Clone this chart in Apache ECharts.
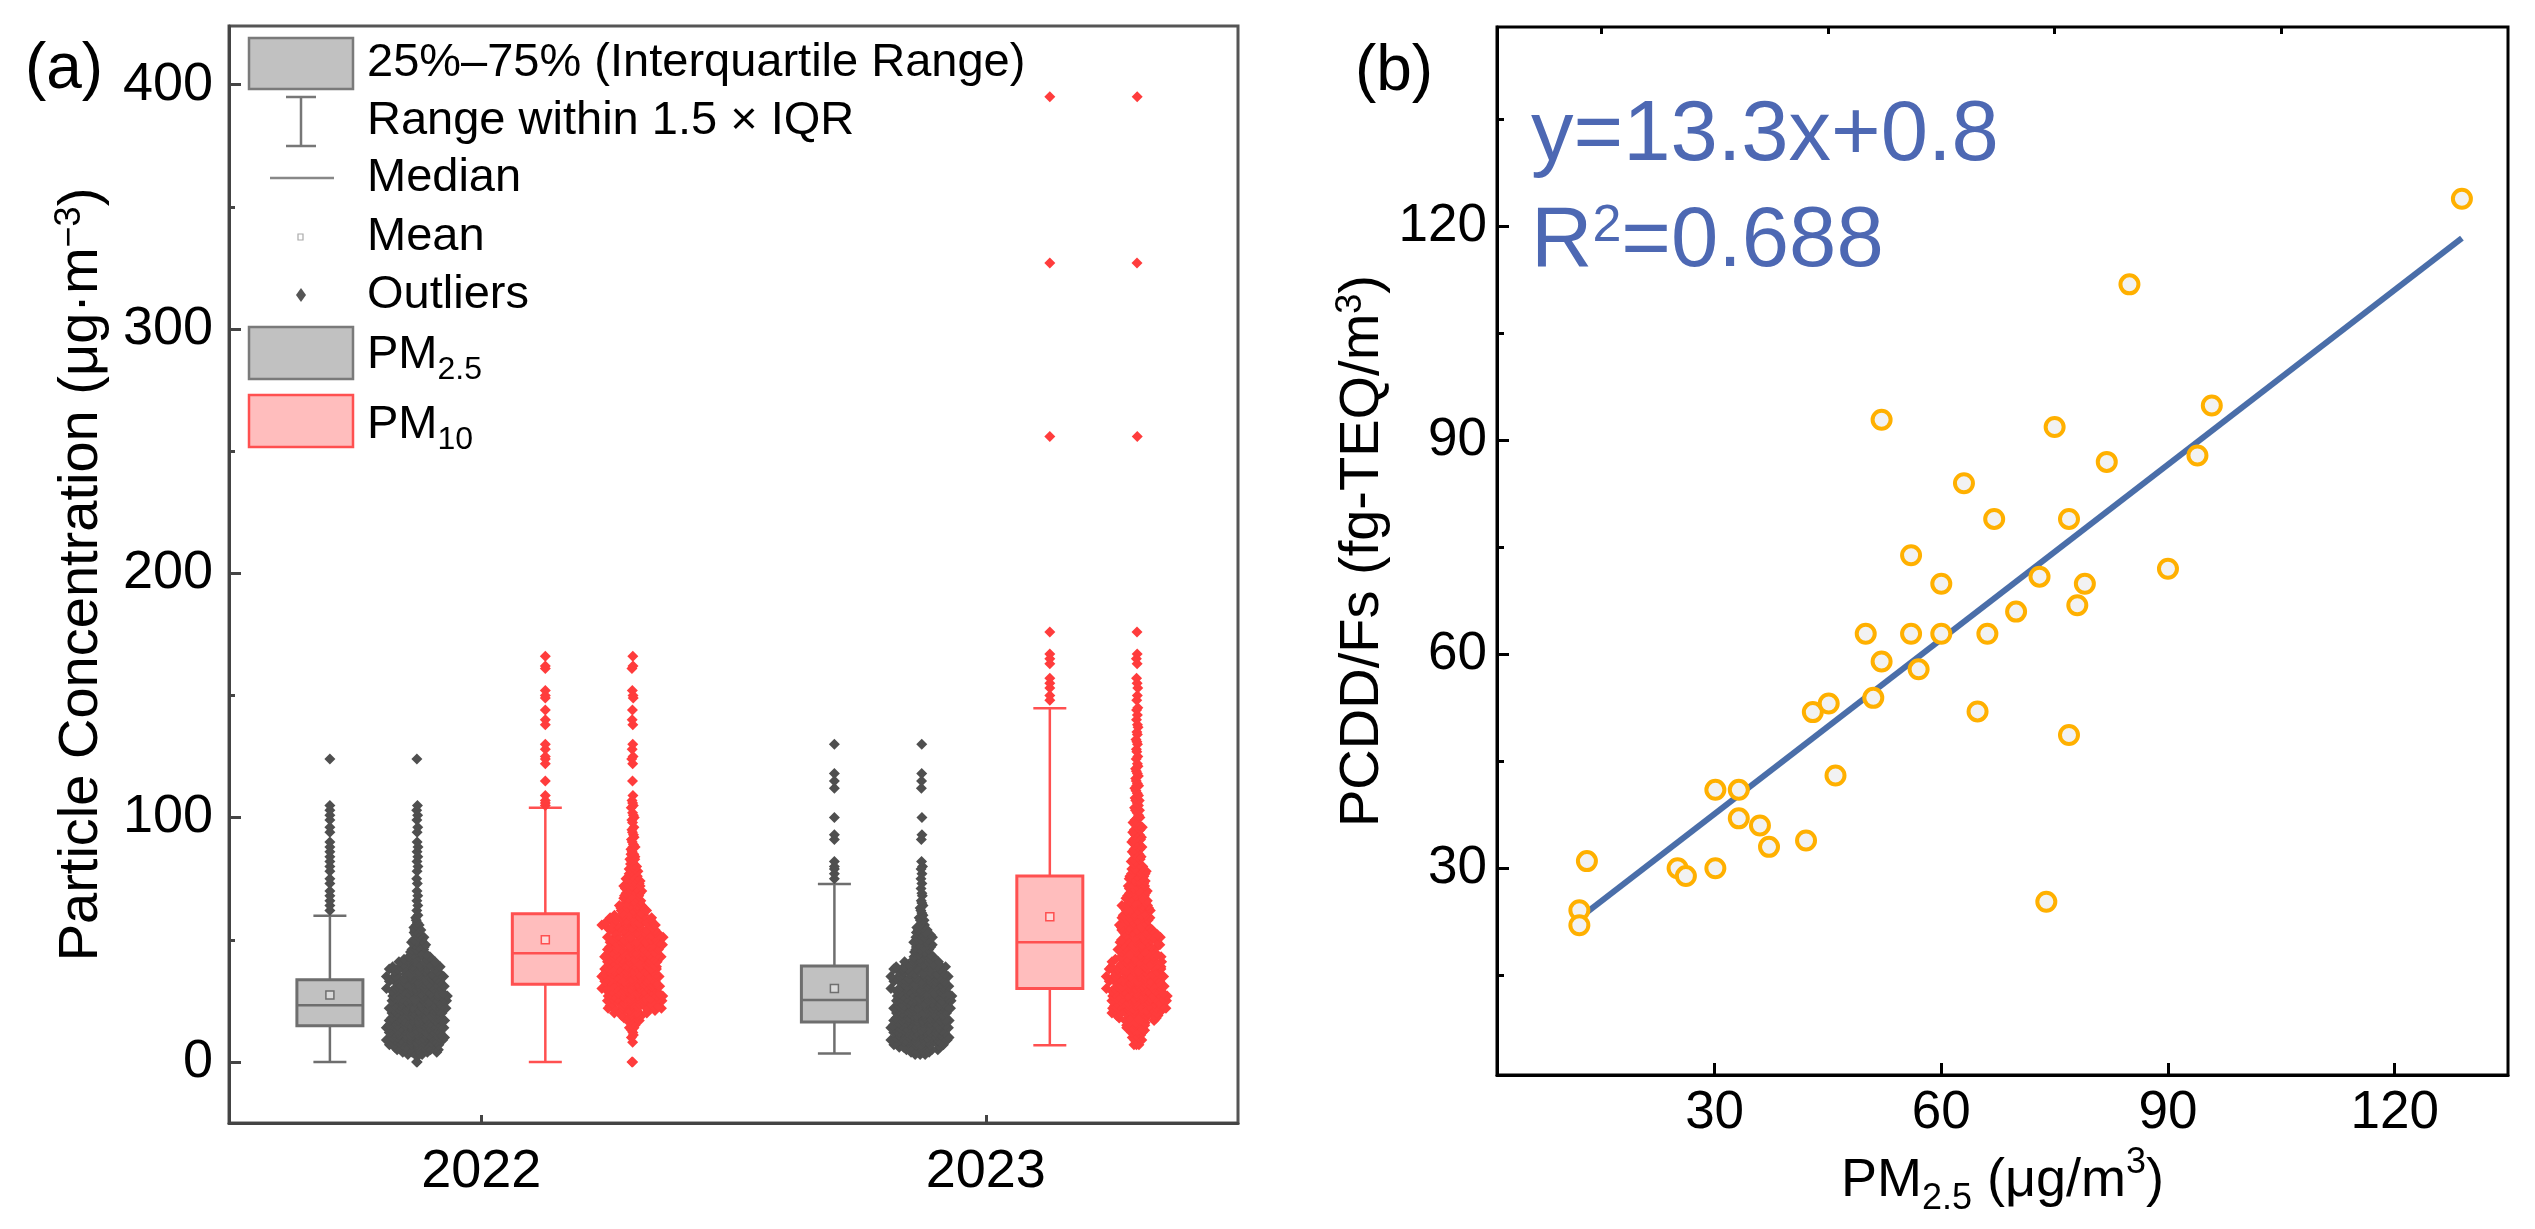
<!DOCTYPE html>
<html>
<head>
<meta charset="utf-8">
<script src="https://cdn.jsdelivr.net/npm/echarts@6/dist/echarts.min.js"></script>
<style>
  html, body { margin: 0; padding: 0; background: #fff; }
  #main { width: 2535px; height: 1229px; }
</style>
</head>
<body>
<div id="main"></div>
<script>
var chart = echarts.init(document.getElementById('main'));

// ---- panel (a) data ----
var yearLabels = ['2022', '2023'];
// box stats: [min, q1, median, q3, max, mean]
var box2022pm25 = [0, 14.8, 23.2, 33.6, 59.8, 27.4];
var box2022pm10 = [0, 31.8, 44.5, 60.6, 104, 50];
var box2023pm25 = [3.4, 16.3, 25.3, 39.3, 72.8, 30];
var box2023pm10 = [6.8, 30, 49, 76.1, 144.8, 59.4];

// outliers (shown in the box column and in the point column)
var out2022pm25 = [62, 64, 66, 68, 70, 73, 75, 78, 80, 82, 84, 86, 88, 90, 94, 96, 99, 101, 103, 105, 124];
var out2022pm10 = [105, 106, 107, 109, 115, 122, 124, 125, 128, 130, 138, 140, 144, 149, 150, 152, 161, 162, 166];
var out2023pm25 = [75, 77, 79, 80, 82, 91, 93, 100, 112, 115, 118, 130];
var out2023pm10 = [148, 150, 153, 155, 157, 163, 165, 167, 176, 256, 327, 395];

// daily values within whiskers, as number of days per integer value (from start value up)
var start2022pm25 = 0;
var days2022pm25 = [2, 0, 0, 4, 5, 6, 7, 8, 9, 10,
  10, 11, 11, 12, 12, 12, 12, 12, 12, 11,
  11, 11, 10, 10, 10, 10, 9, 9, 9, 8,
  8, 8, 7, 7, 7, 7, 7, 6, 6, 6,
  6, 5, 4, 3, 3, 3, 3, 2, 3, 2,
  3, 2, 2, 2, 2, 1, 2, 1, 1, 1,
  1];
var start2022pm10 = 0;
var days2022pm10 = [2, 0, 0, 0, 0, 0, 0, 0, 1, 0,
  1, 1, 1, 1, 2, 1, 2, 2, 3, 4,
  5, 6, 6, 7, 7, 8, 8, 8, 9, 9,
  9, 9, 9, 9, 9, 9, 9, 9, 9, 9,
  9, 8, 8, 8, 8, 8, 7, 7, 7, 7,
  7, 6, 6, 6, 6, 6, 6, 6, 6, 5,
  5, 4, 4, 4, 4, 3, 3, 3, 3, 3,
  3, 3, 3, 3, 3, 3, 2, 2, 2, 2,
  2, 2, 1, 2, 1, 2, 1, 1, 2, 1,
  1, 1, 1, 1, 1, 1, 1, 0, 1, 1,
  1, 1, 1, 0, 1];
var start2023pm25 = 3;
var days2023pm25 = [3, 4, 5, 6, 7, 8, 9, 10, 10, 11,
  11, 11, 11, 11, 11, 11, 10, 10, 10, 10,
  10, 9, 9, 9, 9, 9, 8, 8, 8, 8,
  8, 7, 7, 7, 7, 6, 6, 6, 5, 3,
  3, 3, 3, 3, 3, 3, 3, 3, 3, 3,
  3, 2, 2, 2, 1, 2, 1, 1, 1, 1,
  1, 1, 1, 1, 0, 1, 1, 0, 1, 0,
  1];
var start2023pm10 = 7;
var days2023pm10 = [3, 1, 2, 2, 2, 3, 3, 3, 3, 4,
  4, 5, 6, 7, 8, 8, 8, 8, 8, 8,
  8, 8, 8, 8, 8, 8, 8, 7, 7, 7,
  7, 7, 7, 7, 6, 6, 5, 5, 5, 5,
  5, 5, 5, 5, 5, 5, 5, 5, 4, 4,
  4, 4, 4, 4, 4, 4, 4, 4, 4, 4,
  3, 3, 4, 3, 3, 3, 3, 3, 3, 3,
  3, 3, 3, 2, 2, 2, 2, 2, 2, 2,
  2, 2, 2, 2, 2, 2, 2, 2, 2, 2,
  2, 2, 1, 2, 1, 1, 2, 1, 1, 1,
  2, 1, 1, 1, 1, 1, 2, 1, 1, 1,
  1, 1, 1, 1, 1, 1, 0, 1, 1, 0,
  1, 1, 0, 1, 1, 1, 0, 1, 1, 0,
  1, 1, 0, 1, 0, 1, 0, 1, 1];

var aTicks = [0, 100, 200, 300, 400];
var aMinor = [50, 150, 250, 350];

// ---- panel (b) data ----
var pm25Obs = [128.9, 84.9, 95.8, 52.1, 75.0, 81.9, 93.9, 63.0, 67.0, 76.9,
  56.0, 60.0, 90.0, 73.0, 79.0, 78.0, 69.9, 50.0, 56.0, 60.0,
  66.1, 52.1, 57.0, 51.0, 43.0, 45.1, 64.8, 76.9, 46.0, 30.1,
  33.2, 33.2, 36.0, 37.2, 42.1, 13.1, 25.1, 26.2, 30.1, 73.9,
  12.1, 12.1];
var pcddObs = [123.9, 111.9, 94.9, 92.9, 91.9, 87.0, 87.9, 84.0, 79.0, 79.0,
  73.9, 69.9, 72.0, 70.9, 69.9, 66.9, 66.0, 62.9, 62.9, 62.9,
  62.9, 59.0, 57.9, 53.9, 51.9, 53.1, 52.0, 48.7, 43.0, 41.0,
  41.0, 37.0, 36.0, 33.0, 33.9, 31.0, 30.0, 28.9, 30.0, 25.3,
  24.1, 22.0];
var fitX = [11.7, 128.9];
var fitY = [22.7, 118.4];
var bTicks = [30, 60, 90, 120];
var bMinorX = [15, 45, 75, 105];
var bMinorY = [15, 45, 75, 105, 135];

// ---- layout ----
var FONT = '"Liberation Sans", Arial, sans-serif';
var GA = { left: 229, top: 26, width: 1009, height: 1097 };
var GB = { left: 1497, top: 27, width: 1011, height: 1048 };
var PX_PER_X = GA.width / 2;       // panel (a) x axis runs 0..2
var OFF_BOX = 0.3, OFF_PTS = 0.127; // column offsets from the year centre
var SPREAD_MAX = 64, SPREAD_FULL = 6; // point cloud width in px, days per value that fill it

var STYLE = [
  { fill: '#c1c1c1', line: '#6e6e6e', pt: '#4f4f4f' },
  { fill: '#ffbdbd', line: '#ff5050', pt: '#ff3c3c' }
];

function frac(v) { return v - Math.floor(v); }

// spread the days of one group sideways, wider where values are dense
function spreadColumn(days, start, extra, centre) {
  var n = {};
  days.forEach(function (c, i) { n[start + i] = (n[start + i] || 0) + c; });
  extra.forEach(function (v) { n[v] = (n[v] || 0) + 1; });
  var pts = [];
  Object.keys(n).forEach(function (k) {
    var v = +k, c = n[v];
    if (!c) return;
    var s = 0.15 * (n[v - 2] || 0) + 0.2 * (n[v - 1] || 0) + 0.3 * c +
      0.2 * (n[v + 1] || 0) + 0.15 * (n[v + 2] || 0);
    var w = SPREAD_MAX * Math.pow(Math.min(1, s / SPREAD_FULL), 1.5) *
      (0.74 + 0.26 * frac(v * 0.618034 + 0.31));
    for (var i = 0; i < c; i++) {
      var u = frac(0.5 + v * 0.7548776662 + i * 0.6180339887);
      pts.push([centre + (u - 0.5) * w / PX_PER_X, v]);
    }
  });
  return pts;
}

var groups = [
  { yr: 0, g: 0, box: box2022pm25, out: out2022pm25, days: days2022pm25, start: start2022pm25 },
  { yr: 0, g: 1, box: box2022pm10, out: out2022pm10, days: days2022pm10, start: start2022pm10 },
  { yr: 1, g: 0, box: box2023pm25, out: out2023pm25, days: days2023pm25, start: start2023pm25 },
  { yr: 1, g: 1, box: box2023pm10, out: out2023pm10, days: days2023pm10, start: start2023pm10 }
];

var boxData = [], outPts = [[], []], cloudPts = [[], []];
groups.forEach(function (gr) {
  var c = gr.yr + 0.5;
  var bx = gr.g === 0 ? c - OFF_BOX : c + OFF_PTS;
  var px = gr.g === 0 ? c - OFF_PTS : c + OFF_BOX;
  boxData.push([bx].concat(gr.box).concat([gr.g]));
  gr.out.forEach(function (v) { outPts[gr.g].push([bx, v]); });
  cloudPts[gr.g] = cloudPts[gr.g].concat(spreadColumn(gr.days, gr.start, gr.out, px));
});

function renderBox(params, api) {
  var x = api.value(0);
  var st = STYLE[api.value(7)];
  var lo = api.coord([x, api.value(1)]);
  var q1 = api.coord([x, api.value(2)]);
  var md = api.coord([x, api.value(3)]);
  var q3 = api.coord([x, api.value(4)]);
  var hi = api.coord([x, api.value(5)]);
  var mn = api.coord([x, api.value(6)]);
  var cx = lo[0], hw = 33, cap = 16.5;
  var ln = { stroke: st.line, lineWidth: 2.5 };
  return {
    type: 'group',
    children: [
      { type: 'line', shape: { x1: cx, y1: hi[1], x2: cx, y2: q3[1] }, style: ln },
      { type: 'line', shape: { x1: cx, y1: q1[1], x2: cx, y2: lo[1] }, style: ln },
      { type: 'line', shape: { x1: cx - cap, y1: hi[1], x2: cx + cap, y2: hi[1] }, style: ln },
      { type: 'line', shape: { x1: cx - cap, y1: lo[1], x2: cx + cap, y2: lo[1] }, style: ln },
      { type: 'rect', shape: { x: cx - hw, y: q3[1], width: 2 * hw, height: q1[1] - q3[1] },
        style: { fill: st.fill, stroke: st.line, lineWidth: 3 } },
      { type: 'line', shape: { x1: cx - hw, y1: md[1], x2: cx + hw, y2: md[1] }, style: ln },
      { type: 'rect', shape: { x: cx - 4, y: mn[1] - 4, width: 8, height: 8 },
        style: { fill: 'rgba(255,255,255,0.4)', stroke: st.line, lineWidth: 1.5 } }
    ]
  };
}

var supSub = {
  sup: { fontSize: 36, fontFamily: FONT, color: '#000', verticalAlign: 'top', lineHeight: 22 },
  sub: { fontSize: 36, fontFamily: FONT, color: '#000', verticalAlign: 'bottom', lineHeight: 22 }
};

function tickAxis(grid, min, max, labels, ticks, len, color, labelOpt, extra) {
  return Object.assign({
    type: 'value', gridIndex: grid, min: min, max: max,
    splitLine: { show: false },
    axisLine: { show: true, onZero: false, lineStyle: { color: color, width: 3 } },
    axisTick: { show: true, inside: true, length: len, customValues: ticks,
      lineStyle: { color: color, width: 3 } },
    axisLabel: labels ? Object.assign({ customValues: labels, color: '#000', fontFamily: FONT }, labelOpt)
      : { show: false }
  }, extra || {});
}

// legend of panel (a)
var LX = 367;
var legendText = { fontSize: 47, fontFamily: FONT, fill: '#000', verticalAlign: 'middle', lineHeight: 62,
  rich: { sub: { fontSize: 32, fontFamily: FONT, verticalAlign: 'bottom', lineHeight: 18 } } };
function ltext(t, y) {
  return { type: 'text', x: LX, y: y, style: Object.assign({ text: t }, legendText) };
}
var legend = [
  { type: 'rect', shape: { x: 249, y: 38, width: 104, height: 51 },
    style: { fill: '#c1c1c1', stroke: '#7a7a7a', lineWidth: 2.5 } },
  ltext('25%–75% (Interquartile Range)', 63),
  { type: 'polyline', shape: { points: [[286, 97], [316, 97], [301, 97], [301, 146], [286, 146], [316, 146]] },
    style: { stroke: '#777', lineWidth: 2.5, fill: null } },
  ltext('Range within 1.5 × IQR', 121),
  { type: 'line', shape: { x1: 270, y1: 178, x2: 334, y2: 178 }, style: { stroke: '#888', lineWidth: 2.5 } },
  ltext('Median', 178),
  { type: 'rect', shape: { x: 298, y: 234, width: 5, height: 6 }, style: { fill: null, stroke: '#aaa', lineWidth: 1.2 } },
  ltext('Mean', 237),
  { type: 'polygon', shape: { points: [[301, 288], [306, 295], [301, 302], [296, 295]] }, style: { fill: '#555' } },
  ltext('Outliers', 295),
  { type: 'rect', shape: { x: 249, y: 327, width: 104, height: 52 },
    style: { fill: '#c1c1c1', stroke: '#7a7a7a', lineWidth: 2.5 } },
  ltext('PM{sub|2.5}', 355),
  { type: 'rect', shape: { x: 249, y: 395, width: 104, height: 52 },
    style: { fill: '#ffbdbd', stroke: '#ff5050', lineWidth: 2.5 } },
  ltext('PM{sub|10}', 425)
];

var option = {
  animation: false,
  backgroundColor: '#fff',
  textStyle: { fontFamily: FONT },
  grid: [
    Object.assign({ show: true, borderColor: '#555', borderWidth: 3, backgroundColor: 'transparent',
      outerBoundsMode: 'none' }, GA),
    Object.assign({ show: true, borderColor: '#000', borderWidth: 3, backgroundColor: 'transparent',
      outerBoundsMode: 'none' }, GB)
  ],
  xAxis: [
    tickAxis(0, 0, 2, [0.5, 1.5], [0.5, 1.5], 8, '#444',
      { fontSize: 54, margin: 22, formatter: function (v) { return yearLabels[Math.round(v - 0.5)]; } }),
    tickAxis(1, 1.2, 135, bTicks, bTicks, 12, '#000', { fontSize: 53, margin: 12 }, {
      name: 'PM{sub|2.5} (μg/m{sup|3})', nameLocation: 'middle', nameGap: 68,
      nameTextStyle: { fontSize: 54, fontFamily: FONT, color: '#000', lineHeight: 72, rich: supSub }
    }),
    tickAxis(1, 1.2, 135, null, bMinorX, 7, '#000', null, { axisLine: { show: false } })
  ],
  yAxis: [
    tickAxis(0, -25, 424, aTicks, aTicks, 12, '#444', { fontSize: 54, margin: 16 }, {
      name: 'Particle Concentration (μg·m{sup|−3})', nameLocation: 'middle', nameGap: 117, nameRotate: 90,
      nameTextStyle: { fontSize: 56, fontFamily: FONT, color: '#000', lineHeight: 60, rich: supSub }
    }),
    tickAxis(0, -25, 424, null, aMinor, 6, '#444', null, { axisLine: { show: false }, position: 'left' }),
    tickAxis(1, 1, 148, bTicks, bTicks, 12, '#000', { fontSize: 53, margin: 10 }, {
      name: 'PCDD/Fs (fg-TEQ/m{sup|3})', nameLocation: 'middle', nameGap: 104, nameRotate: 90,
      nameTextStyle: { fontSize: 56, fontFamily: FONT, color: '#000', lineHeight: 60, rich: supSub }
    }),
    tickAxis(1, 1, 148, null, bMinorY, 7, '#000', null, { axisLine: { show: false }, position: 'left' })
  ],
  series: [
    {
      type: 'custom', xAxisIndex: 0, yAxisIndex: 0, renderItem: renderBox,
      encode: { x: 0, y: [1, 2, 3, 4, 5] }, data: boxData, z: 2
    },
    { type: 'scatter', xAxisIndex: 0, yAxisIndex: 0, symbol: 'diamond', symbolSize: 11,
      itemStyle: { color: STYLE[0].pt, opacity: 1 }, data: outPts[0].concat(cloudPts[0]), z: 3 },
    { type: 'scatter', xAxisIndex: 0, yAxisIndex: 0, symbol: 'diamond', symbolSize: 11,
      itemStyle: { color: STYLE[1].pt, opacity: 1 }, data: outPts[1].concat(cloudPts[1]), z: 3 },
    { type: 'line', xAxisIndex: 1, yAxisIndex: 2, symbol: 'none',
      lineStyle: { color: '#4a6ea9', width: 6 },
      data: fitX.map(function (x, i) { return [x, fitY[i]]; }), z: 2 },
    { type: 'scatter', xAxisIndex: 1, yAxisIndex: 2, symbol: 'circle', symbolSize: 18,
      itemStyle: { color: '#f2f2f2', borderColor: '#ffb000', borderWidth: 4, opacity: 1 },
      data: pm25Obs.map(function (x, i) { return [x, pcddObs[i]]; }), z: 3 }
  ],
  graphic: legend.concat([
    { type: 'text', x: 64, y: 70, style: { text: '(a)', fontSize: 64, fontFamily: FONT, fill: '#000',
      align: 'center', verticalAlign: 'middle' } },
    { type: 'text', x: 1394, y: 72, style: { text: '(b)', fontSize: 64, fontFamily: FONT, fill: '#000',
      align: 'center', verticalAlign: 'middle' } },
    { type: 'text', x: 1531, y: 137, style: { text: 'y=13.3x+0.8', fontSize: 85, fontFamily: FONT,
      fill: '#4d68b3', verticalAlign: 'middle' } },
    { type: 'text', x: 1531, y: 243, style: { text: 'R{s|2}=0.688', fontSize: 85, fontFamily: FONT,
      fill: '#4d68b3', verticalAlign: 'middle',
      rich: { s: { fontSize: 52, fontFamily: FONT, fill: '#4d68b3', verticalAlign: 'top', lineHeight: 40 } } } }
  ])
};

chart.setOption(option);
</script>
</body>
</html>
